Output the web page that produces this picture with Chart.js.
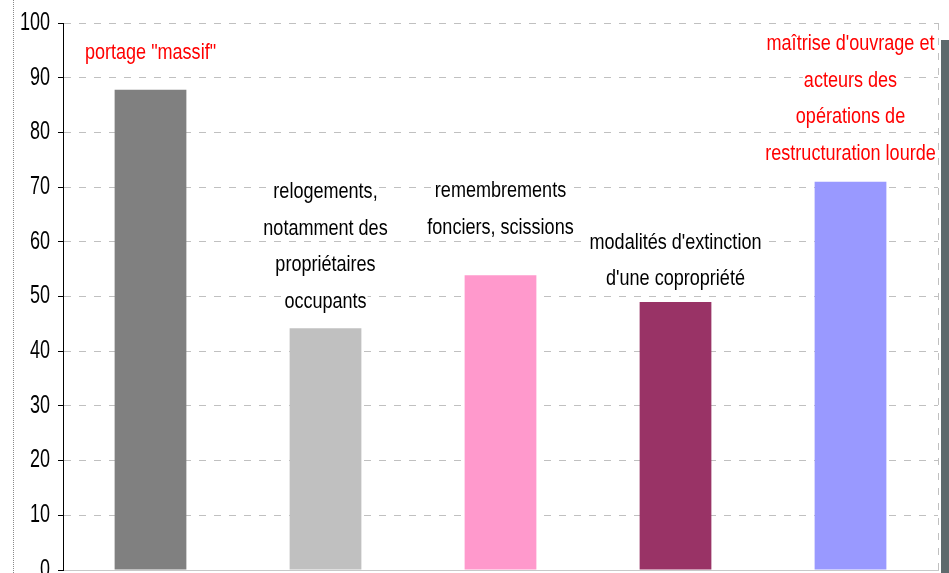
<!DOCTYPE html>
<html>
<head>
<meta charset="utf-8">
<script src="https://cdn.jsdelivr.net/npm/chart.js@4/dist/chart.umd.min.js"></script>
<style>
  html, body { margin: 0; padding: 0; background: #fff; overflow: hidden; }
  #wrap { position: absolute; left: 0; top: 0; width: 949px; height: 600px; }
  #dots { position: absolute; left: 13px; top: 0; height: 573px; border-left: 1px dotted #8a8a8a; }
  #edge { position: absolute; left: 941px; top: 40px; width: 8px; height: 533px; background: #5f6a6d; }
</style>
</head>
<body>
<div id="wrap"><canvas id="chart" width="949" height="600"></canvas></div>
<div id="dots"></div>
<div id="edge"></div>
<script>
const categories = [
    ['portage "massif"'],
    ['relogements,', 'notamment des', 'propriétaires', 'occupants'],
    ['remembrements', 'fonciers, scissions'],
    ["modalités d'extinction", "d'une copropriété"],
    ["maîtrise d'ouvrage et", 'acteurs des', 'opérations de', 'restructuration lourde']
];
const values = [87.8, 44.2, 53.9, 49.0, 71.0];
const barColors = ['#808080', '#c0c0c0', '#ff99cc', '#993366', '#9999ff'];
const labelColors = ['#ff0000', '#000000', '#000000', '#000000', '#ff0000'];
// value (on the y axis) where the first line of each label sits
const labelBaseline = [93.5, 68.0, 68.1, 58.7, 95.0];
const yTicks = [0, 10, 20, 30, 40, 50, 60, 70, 80, 90, 100];

// the original uses a narrow Arial; no narrow face here, so squeeze Liberation Sans
const LABEL_FONT = "22px 'Liberation Sans', Arial, sans-serif";
const TICK_FONT = "25px 'Liberation Sans', Arial, sans-serif";

function narrowText(ctx, t, x, y, align, sx) {
    ctx.save();
    ctx.translate(x, y);
    ctx.scale(sx, 1);
    ctx.textAlign = align;
    ctx.fillText(t, 0, 0);
    ctx.restore();
}

const narrowLabels = {
    id: 'narrowLabels',
    afterDraw(chart) {
        const { ctx, scales: { x, y } } = chart;
        const a = chart.chartArea;
        ctx.save();

        // y tick labels
        ctx.font = TICK_FONT;
        ctx.fillStyle = '#000000';
        ctx.textBaseline = 'middle';
        y.ticks.forEach(t => {
            narrowText(ctx, String(t.value), a.left - 13, y.getPixelForValue(t.value), 'right', 0.72);
        });

        // multi-line labels above the bars, white box behind each line
        ctx.font = LABEL_FONT;
        ctx.textBaseline = 'alphabetic';
        categories.forEach((lines, i) => {
            const cx = x.getPixelForValue(i);
            const y0 = y.getPixelForValue(labelBaseline[i]);
            lines.forEach((t, j) => {
                const by = y0 + j * 36.5;
                const w = ctx.measureText(t).width * 0.82;
                ctx.fillStyle = '#ffffff';
                ctx.fillRect(cx - w / 2 - 1, by - 17, w + 2, 22);
                ctx.fillStyle = labelColors[i];
                narrowText(ctx, t, cx, by, 'center', 0.82);
            });
        });

        // dashed right edge of the plot
        ctx.strokeStyle = '#c0c0c0';
        ctx.lineWidth = 1;
        ctx.setLineDash([7, 8]);
        ctx.beginPath();
        ctx.moveTo(a.right + 0.5, a.top);
        ctx.lineTo(a.right + 0.5, a.bottom);
        ctx.stroke();
        ctx.restore();
    }
};

new Chart(document.getElementById('chart'), {
    type: 'bar',
    data: {
        labels: categories.map(c => c.join(' ')),
        datasets: [{
            data: values,
            backgroundColor: barColors,
            barPercentage: 0.41,
            categoryPercentage: 1.0
        }]
    },
    options: {
        responsive: false,
        animation: false,
        layout: { padding: { left: 0, right: 11, top: 23, bottom: 22 } },
        plugins: { legend: { display: false }, tooltip: { enabled: false } },
        scales: {
            x: {
                ticks: { display: false },
                grid: { display: false },
                border: { color: '#c8c8c8', width: 1 }
            },
            y: {
                min: 0,
                max: 100,
                afterFit(scale) { scale.width = 63; },
                afterBuildTicks(scale) { scale.ticks = yTicks.map(v => ({ value: v })); },
                ticks: { display: false },
                grid: {
                    color: '#c0c0c0',
                    tickColor: '#000000',
                    tickLength: 5
                },
                border: { color: '#000000', width: 1, dash: [7, 8] }
            }
        }
    },
    plugins: [narrowLabels]
});
</script>
</body>
</html>
